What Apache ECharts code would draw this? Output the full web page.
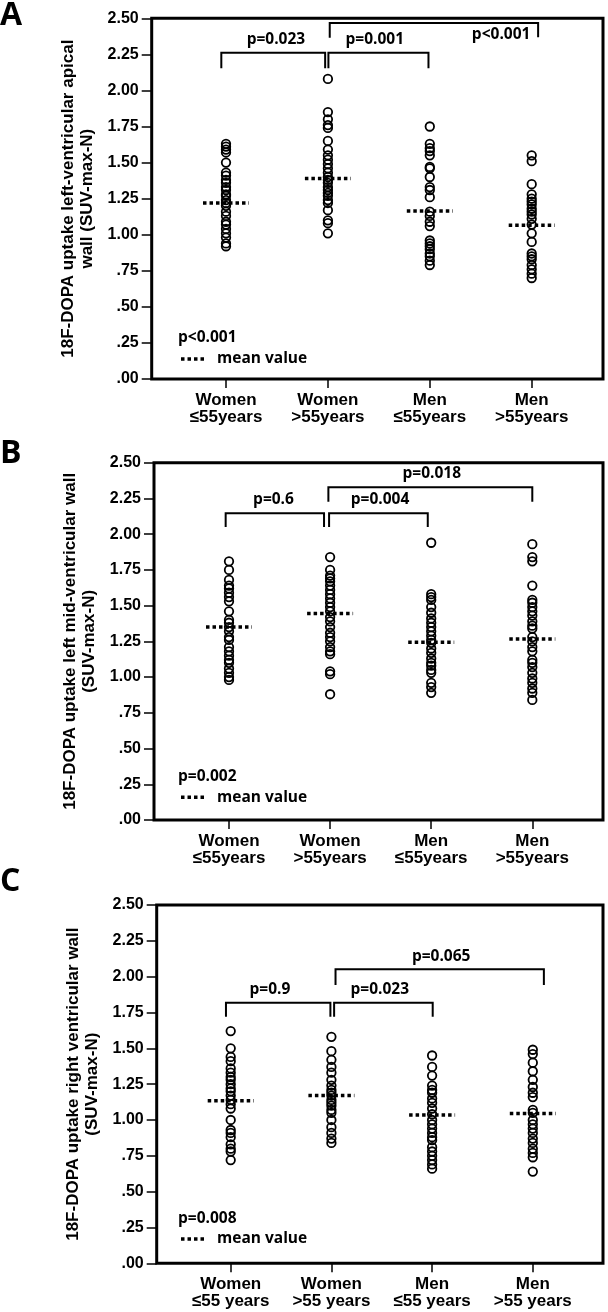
<!DOCTYPE html>
<html><head><meta charset="utf-8">
<script src="https://cdn.jsdelivr.net/npm/echarts@6/dist/echarts.min.js"></script>
<style>html,body{margin:0;padding:0;background:#fff}#c{width:608px;height:1312px}</style>
</head><body><div id="c"></div>
<script>
// ---------- data ----------
const categoriesAB = ['Women\n\u226455years', 'Women\n>55years', 'Men\n\u226455years', 'Men\n>55years'];
const categoriesC = ['Women\n\u226455 years', 'Women\n>55 years', 'Men\n\u226455 years', 'Men\n>55 years'];
const yTickLabels = ['.00', '.25', '.50', '.75', '1.00', '1.25', '1.50', '1.75', '2.00', '2.25', '2.50'];

const panelLetters = ['A', 'B', 'C'];
const yAxisNames = [
  '18F-DOPA uptake left-ventricular apical\nwall (SUV-max-N)',
  '18F-DOPA uptake left mid-ventricular wall\n(SUV-max-N)',
  '18F-DOPA uptake right ventricular wall\n(SUV-max-N)'
];
const overallP = ['p<0.001', 'p=0.002', 'p=0.008'];

// Panel A: left-ventricular apical wall
const aWomenLe55 = [1.63,1.61,1.59,1.57,1.50,1.43,1.41,1.38,1.36,1.33,1.31,1.28,1.27,1.24,1.22,1.20,1.16,1.13,1.09,1.07,1.04,1.01,0.98,0.94,0.92];
const aWomenGt55 = [2.08,1.85,1.80,1.76,1.74,1.65,1.59,1.55,1.52,1.49,1.46,1.43,1.40,1.38,1.36,1.33,1.31,1.29,1.27,1.24,1.22,1.17,1.10,1.08,1.01];
const aMenLe55 = [1.75,1.63,1.60,1.58,1.55,1.47,1.46,1.40,1.33,1.31,1.26,1.16,1.13,1.09,1.06,0.96,0.94,0.92,0.90,0.87,0.85,0.82,0.79];
const aMenGt55 = [1.55,1.51,1.35,1.28,1.25,1.23,1.21,1.18,1.16,1.14,1.11,1.07,1.01,0.95,0.87,0.85,0.83,0.79,0.76,0.73,0.70];
const aMeans = [1.22, 1.39, 1.165, 1.065];

// Panel B: left mid-ventricular wall
const bWomenLe55 = [1.81,1.75,1.68,1.64,1.62,1.59,1.56,1.53,1.46,1.40,1.38,1.35,1.32,1.28,1.26,1.21,1.18,1.15,1.12,1.10,1.06,1.03,1.00,0.98];
const bWomenGt55 = [1.84,1.75,1.71,1.69,1.67,1.64,1.61,1.58,1.55,1.52,1.49,1.46,1.42,1.39,1.35,1.31,1.28,1.25,1.21,1.18,1.16,1.04,1.02,0.88];
const bMenLe55 = [1.94,1.58,1.56,1.54,1.49,1.45,1.41,1.38,1.35,1.32,1.29,1.26,1.24,1.20,1.17,1.13,1.10,1.08,1.05,1.03,0.96,0.93,0.89];
const bMenGt55 = [1.93,1.84,1.81,1.64,1.54,1.52,1.49,1.46,1.43,1.39,1.36,1.34,1.28,1.25,1.21,1.18,1.12,1.10,1.07,1.03,0.99,0.96,0.92,0.89,0.84];
const bMeans = [1.35, 1.445, 1.243, 1.267];

// Panel C: right ventricular wall
const cWomenLe55 = [1.62,1.50,1.44,1.41,1.36,1.33,1.30,1.28,1.25,1.22,1.20,1.17,1.14,1.11,1.08,1.00,0.93,0.91,0.88,0.83,0.80,0.78,0.72];
const cWomenGt55 = [1.58,1.48,1.42,1.37,1.33,1.28,1.24,1.21,1.19,1.17,1.14,1.12,1.10,1.07,1.05,1.00,0.95,0.91,0.87,0.84];
const cMenLe55 = [1.45,1.37,1.31,1.24,1.21,1.19,1.15,1.12,1.08,1.04,1.00,0.97,0.94,0.91,0.88,0.86,0.81,0.78,0.75,0.72,0.69,0.66];
const cMenGt55 = [1.49,1.46,1.40,1.34,1.28,1.23,1.19,1.16,1.07,1.05,1.00,0.97,0.94,0.91,0.87,0.84,0.80,0.77,0.74,0.64];
const cMeans = [1.134, 1.17, 1.035, 1.046];

// Comparison brackets: [fromGroup, toGroup, barLevel, leftLegEnd, rightLegEnd]
const aBrackets = [[-0.046, 0.973, 2.262, 2.153, 2.153], [1.005, 1.987, 2.262, 2.153, 2.153], [1.018, 3.063, 2.468, 2.365, 2.368]];
const aBracketLabels = ['p=0.023', 'p=0.001', 'p<0.001'];
const aLabelPos = [[0.49, 2.354], [1.46, 2.354], [2.70, 2.384]];

const bBrackets = [[-0.033, 0.94, 2.146, 2.05, 2.05], [0.99, 1.966, 2.146, 2.05, 2.05], [0.983, 3.0, 2.328, 2.227, 2.227]];
const bBracketLabels = ['p=0.6', 'p=0.004', 'p=0.018'];
const bLabelPos = [[0.44, 2.239], [1.494, 2.239], [2.006, 2.426]];

const cBrackets = [[-0.047, 0.99, 1.818, 1.72, 1.72], [1.027, 2.006, 1.818, 1.72, 1.72], [1.041, 3.11, 2.051, 1.942, 1.942]];
const cBracketLabels = ['p=0.9', 'p=0.023', 'p=0.065'];
const cLabelPos = [[0.39, 1.912], [1.48, 1.912], [2.09, 2.139]];

// ---------- layout / style ----------
const panels = [
  { groups: [aWomenLe55, aWomenGt55, aMenLe55, aMenGt55], means: aMeans, cats: categoriesAB,
    brackets: aBrackets, bLabels: aBracketLabels, lPos: aLabelPos,
    box: { left: 151.7, top: 18.3, right: 603, bottom: 379 }, firstCat: 226, catStep: 101.9,
    letterY: 15.5, pY: 338, meanY: 359 },
  { groups: [bWomenLe55, bWomenGt55, bMenLe55, bMenGt55], means: bMeans, cats: categoriesAB,
    brackets: bBrackets, bLabels: bBracketLabels, lPos: bLabelPos,
    box: { left: 154, top: 462.7, right: 603, bottom: 820 }, firstCat: 229, catStep: 101.1,
    letterY: 454, pY: 776.7, meanY: 797.3 },
  { groups: [cWomenLe55, cWomenGt55, cMenLe55, cMenGt55], means: cMeans, cats: categoriesC,
    brackets: cBrackets, bLabels: cBracketLabels, lPos: cLabelPos,
    box: { left: 156.7, top: 905, right: 603, bottom: 1263.3 }, firstCat: 230.7, catStep: 100.7,
    letterY: 882, pY: 1218.3, meanY: 1239 }
];

const AX_FONT = 'Liberation Sans';
const P_FONT = '"Open Sans"';
const grids = [], xAxes = [], yAxes = [], series = [], graphics = [];

panels.forEach((p, i) => {
  const h = p.box.bottom - p.box.top;
  grids.push({ left: p.box.left, top: p.box.top, width: p.box.right - p.box.left, height: h,
    show: true, borderColor: '#000', borderWidth: 3, backgroundColor: 'transparent' });
  const dLeft = p.firstCat - p.catStep / 2;
  grids.push({ left: dLeft, top: p.box.top, width: p.catStep * 4, height: h, show: false });

  const gBox = 2 * i, gData = 2 * i + 1;
  xAxes.push({ gridIndex: gBox, type: 'value', show: false, min: 0, max: 1 });
  xAxes.push({ gridIndex: gData, type: 'category', data: p.cats, position: 'bottom',
    axisLine: { show: false }, splitLine: { show: false },
    axisTick: { show: true, alignWithLabel: true, length: 9, lineStyle: { color: '#000', width: 1.5 } },
    axisLabel: { interval: 0, color: '#000', fontFamily: AX_FONT, fontWeight: 'bold', fontSize: 17, lineHeight: 17, margin: 13 } });
  xAxes.push({ gridIndex: gData, type: 'value', show: false, min: -0.5, max: 3.5 });

  yAxes.push({ gridIndex: gBox, type: 'value', min: 0, max: 2.5, interval: 0.25,
    axisLine: { show: false }, splitLine: { show: false },
    axisTick: { show: true, length: 10, lineStyle: { color: '#000', width: 1.5 } },
    axisLabel: { color: '#000', fontFamily: AX_FONT, fontWeight: 'bold', fontSize: 16, margin: 13,
      formatter: v => yTickLabels[Math.round(v / 0.25)] },
    name: yAxisNames[i], nameLocation: 'middle', nameGap: 51,
    nameTextStyle: { color: '#000', fontFamily: AX_FONT, fontWeight: 'bold', fontSize: 17, lineHeight: 19 } });
  yAxes.push({ gridIndex: gData, type: 'value', show: false, min: 0, max: 2.5 });

  const xi = 3 * i + 2, yi = 2 * i + 1;
  p.groups.forEach((arr, g) => {
    series.push({ type: 'scatter', xAxisIndex: xi, yAxisIndex: yi, symbol: 'circle', symbolSize: 8.5,
      itemStyle: { color: 'rgba(0,0,0,0)', borderColor: '#000', borderWidth: 1.8, opacity: 1 },
      emphasis: { disabled: true }, silent: true,
      data: arr.map(v => [g, v]) });
  });
  series.push({ type: 'custom', xAxisIndex: xi, yAxisIndex: yi, silent: true, z: 5,
    data: p.means.map((m, g) => [g, m]),
    renderItem: (params, api) => {
      const c = api.coord([api.value(0), api.value(1)]);
      return { type: 'line', shape: { x1: c[0] - 23, y1: c[1], x2: c[0] + 23, y2: c[1] },
        style: { stroke: '#000', lineWidth: 3.5, lineDash: [3.5, 3] } };
    } });
  series.push({ type: 'custom', xAxisIndex: xi, yAxisIndex: yi, silent: true, z: 5, clip: false,
    data: p.brackets,
    renderItem: (params, api) => {
      const a = api.coord([api.value(0), api.value(3)]);
      const b = api.coord([api.value(0), api.value(2)]);
      const c = api.coord([api.value(1), api.value(2)]);
      const d = api.coord([api.value(1), api.value(4)]);
      return { type: 'polyline', shape: { points: [a, b, c, d] },
        style: { stroke: '#000', lineWidth: 2, fill: null } };
    } });
  series.push({ type: 'custom', xAxisIndex: xi, yAxisIndex: yi, silent: true, z: 5, clip: false,
    data: p.lPos,
    renderItem: (params, api) => {
      const c = api.coord([api.value(0), api.value(1)]);
      return { type: 'text', x: c[0], y: c[1],
        style: { text: p.bLabels[params.dataIndex], fill: '#000', font: 'bold 15.5px ' + P_FONT,
          align: 'center', verticalAlign: 'middle' } };
    } });

  graphics.push({ type: 'text', x: 0, y: p.letterY,
    style: { text: panelLetters[i], fill: '#000', font: 'bold 32px ' + P_FONT, verticalAlign: 'middle' } });
  graphics.push({ type: 'text', x: 178, y: p.pY,
    style: { text: overallP[i], fill: '#000', font: 'bold 15.5px ' + P_FONT, verticalAlign: 'middle' } });
  graphics.push({ type: 'line', shape: { x1: 181, y1: p.meanY, x2: 205, y2: p.meanY },
    style: { stroke: '#000', lineWidth: 3.5, lineDash: [3.5, 3] } });
  graphics.push({ type: 'text', x: 217, y: p.meanY,
    style: { text: 'mean value', fill: '#000', font: 'bold 15.5px ' + P_FONT, verticalAlign: 'middle' } });
});

const chart = echarts.init(document.getElementById('c'), null, { renderer: 'canvas' });
chart.setOption({
  animation: false,
  backgroundColor: '#fff',
  grid: grids, xAxis: xAxes, yAxis: yAxes, series: series, graphic: graphics
});
</script></body></html>
